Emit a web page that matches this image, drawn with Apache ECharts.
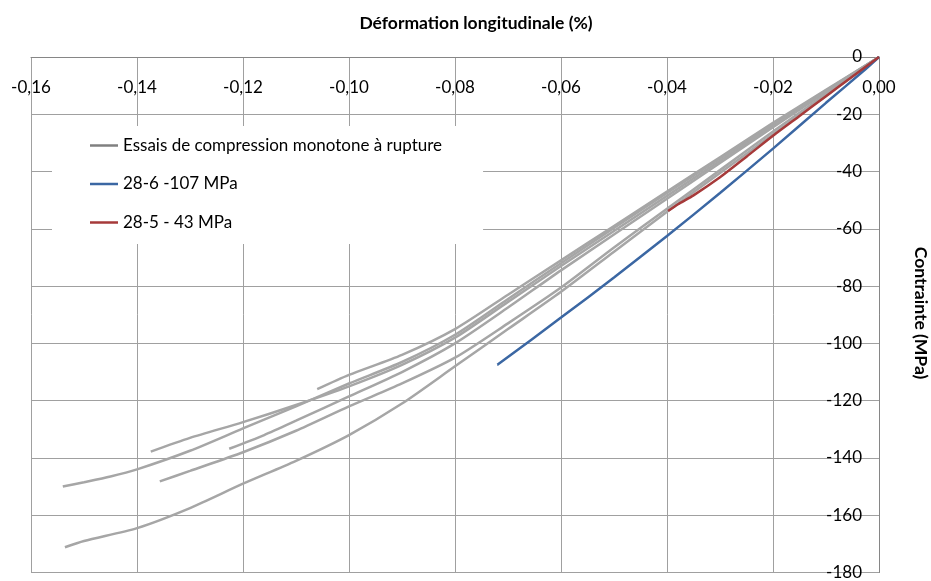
<!DOCTYPE html>
<html>
<head>
<meta charset="utf-8">
<script src="https://cdn.jsdelivr.net/npm/echarts@6/dist/echarts.min.js"></script>
<style>
html,body{margin:0;padding:0;background:#fff;}
#chart{width:931px;height:581px;}
</style>
</head>
<body>
<div id="chart"></div>
<script>
// ---- Data (strain %, stress MPa) ----
const grayName = 'Essais de compression monotone à rupture';
const blueName = '28-6 -107 MPa';
const redName = '28-5 - 43 MPa';

const xTicks = [-0.16, -0.14, -0.12, -0.10, -0.08, -0.06, -0.04, -0.02, 0.00];
const yTicks = [0, -20, -40, -60, -80, -100, -120, -140, -160, -180];

const strainF = [0, -0.01, -0.02, -0.03, -0.04, -0.05, -0.06, -0.07, -0.08, -0.09, -0.10, -0.106];
const stressF = [0, -11.5, -23, -35, -47, -59, -71, -83, -95, -104, -111, -116];

const strainA = [0, -0.02, -0.04, -0.06, -0.07, -0.08, -0.09, -0.10, -0.11, -0.12, -0.13, -0.14, -0.145, -0.15, -0.154];
const stressA = [0, -23.5, -47.5, -72, -84.5, -97, -106.5, -114, -122, -129.7, -137.5, -144, -146.5, -148.5, -150];

const strainC = [0, -0.02, -0.04, -0.06, -0.07, -0.08, -0.09, -0.10, -0.11, -0.12, -0.13, -0.1374];
const stressC = [0, -24, -48.5, -73, -85.5, -98, -107.5, -115, -121.5, -127.5, -133, -137.8];

const strainE = [0, -0.02, -0.04, -0.06, -0.07, -0.08, -0.09, -0.10, -0.11, -0.116, -0.1226];
const stressE = [0, -24.5, -49.5, -74.5, -87.5, -100, -110, -118.5, -127, -132, -136.8];

const strainD = [0, -0.01, -0.02, -0.03, -0.04, -0.05, -0.06, -0.07, -0.08, -0.09, -0.10, -0.11, -0.12, -0.13, -0.1357];
const stressD = [0, -13, -26, -39.5, -53, -66.5, -80.5, -93, -105, -114, -122, -130.5, -138, -144.5, -148.2];

const strainB = [0, -0.01, -0.02, -0.03, -0.04, -0.05, -0.06, -0.07, -0.08, -0.09, -0.10, -0.11, -0.12, -0.13, -0.14, -0.15, -0.1536];
const stressB = [0, -13.5, -27, -40.5, -54, -68, -82, -95, -108, -121, -132, -141, -149, -157.5, -164.5, -169, -171.2];

const strainBlue = [0, -0.003, -0.01, -0.02, -0.03, -0.04, -0.05, -0.06, -0.072];
const stressBlue = [0, -5, -16, -32, -47.5, -62.5, -77, -91, -107.5];

const strainRed = [0, -0.005, -0.01, -0.015, -0.02, -0.025, -0.03, -0.035, -0.038, -0.0398];
const stressRed = [0, -6.8, -13.7, -20.6, -27.5, -34.8, -42, -48.3, -51.5, -53.8];

// ---- Build ----
const FONT = 'Lato, "Open Sans", sans-serif';
const GRAY = '#a6a6a6';
const BLUE = '#3b67a3';
const RED = '#a63a3a';
const LINE_ICON = 'path://M0,0H28V2.5H0Z';

function pairs(xs, ys){ return xs.map((x,i)=>[x, ys[i]]); }
function lineSeries(name, xs, ys, color, z){
  return {
    name: name, type:'line', symbol:'none', smooth:0.25, z: z,
    data: pairs(xs, ys),
    lineStyle:{color: color, width: 2.5},
    itemStyle:{color: color},
    emphasis:{disabled:true},
    animation:false
  };
}

const grays = [
  [strainF, stressF], [strainA, stressA], [strainC, stressC],
  [strainE, stressE], [strainD, stressD], [strainB, stressB]
];
const series = grays.map(g => lineSeries(grayName, g[0], g[1], GRAY, 2));
series.push(lineSeries(blueName, strainBlue, stressBlue, BLUE, 3));
series.push(lineSeries(redName, strainRed, stressRed, RED, 4));

const chart = echarts.init(document.getElementById('chart'), null, {renderer:'canvas'});
chart.setOption({
  animation:false,
  backgroundColor:'#fff',
  grid:{left:31, right:52, top:57, bottom:4, containLabel:false},
  xAxis:{
    type:'value', position:'top',
    min: xTicks[0], max: xTicks[xTicks.length-1], interval:0.02,
    axisLine:{show:true, onZero:false, lineStyle:{color:'#868686', width:1}},
    axisTick:{show:false},
    axisLabel:{inside:true, margin:22, color:'#000', fontFamily:FONT, fontSize:17,
      formatter: v => v.toFixed(2).replace('.', ',')},
    splitLine:{show:true, lineStyle:{color:'#a0a0a0', width:1}}
  },
  yAxis:{
    type:'value', position:'right',
    min: yTicks[yTicks.length-1], max: yTicks[0], interval:20,
    axisLine:{show:true, onZero:false, lineStyle:{color:'#868686', width:1}},
    axisTick:{show:false},
    axisLabel:{inside:true, margin:17, color:'#000', fontFamily:FONT, fontSize:17},
    splitLine:{show:true, lineStyle:{color:'#a0a0a0', width:1}}
  },
  legend:{
    orient:'vertical', left:52, top:126,
    backgroundColor:'#fff',
    padding:[11, 41, 13, 38],
    itemWidth:28, itemHeight:16, itemGap:21.5,
    selectedMode:false,
    textStyle:{color:'#000', fontFamily:FONT, fontSize:17},
    data:[
      {name:grayName, icon:LINE_ICON, itemStyle:{color:'#808080'}},
      {name:blueName, icon:LINE_ICON, itemStyle:{color:BLUE}},
      {name:redName, icon:LINE_ICON, itemStyle:{color:RED}}
    ]
  },
  graphic:[
    {type:'text', x:476, y:23, z:10,
      style:{text:'Déformation longitudinale (%)', fill:'#000', font:'bold 17.5px ' + FONT, align:'center', verticalAlign:'middle'}},
    {type:'text', x:921, y:313, rotation:-Math.PI/2, z:10,
      style:{text:'Contrainte (MPa)', fill:'#000', font:'bold 17.5px ' + FONT, align:'center', verticalAlign:'middle'}}
  ],
  series: series
});
</script>
</body>
</html>
